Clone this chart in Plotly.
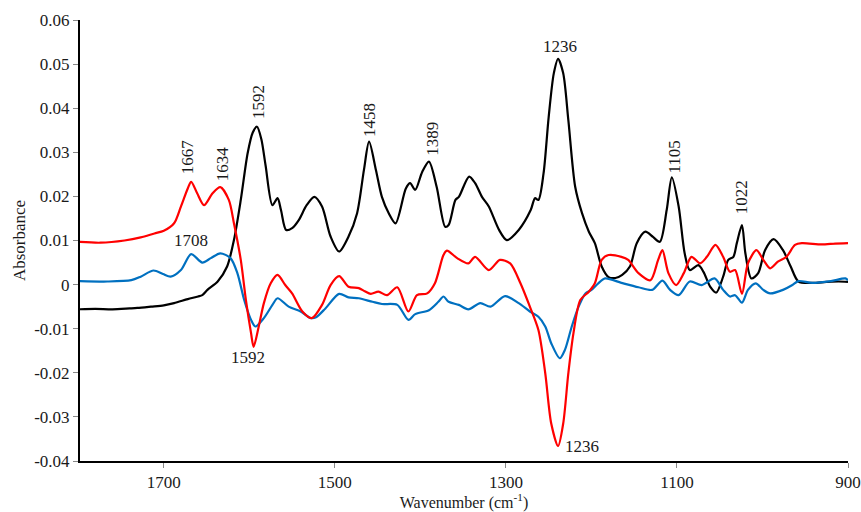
import plotly.graph_objects as go

# ---------------- data ----------------
black_w = [1800, 1780, 1760, 1740, 1731, 1715, 1700, 1688, 1672, 1660, 1655, 1649, 1637, 1626, 1618,
           1610, 1602, 1596, 1591, 1586, 1581, 1573, 1567, 1563, 1557, 1550, 1542, 1533, 1524, 1515,
           1505, 1495, 1484, 1474, 1466, 1460, 1452, 1445, 1437, 1429, 1417, 1412, 1406, 1398, 1390,
           1381, 1371, 1367, 1359, 1355, 1343, 1336, 1328, 1320, 1308, 1299, 1285, 1271, 1266, 1262,
           1256, 1250, 1244, 1239, 1233, 1227, 1219, 1211, 1203, 1196, 1188, 1180, 1172, 1164, 1155,
           1147, 1137, 1128, 1120, 1112, 1106, 1098, 1091, 1085, 1075, 1069, 1061, 1054, 1046, 1040,
           1034, 1030, 1024, 1020, 1013, 1005, 997, 987, 976, 967, 958, 942, 925, 911, 900]
black_v = [-0.0056, -0.0055, -0.0056, -0.0054, -0.0053, -0.0050, -0.0047, -0.0042, -0.0033, -0.0027,
           -0.0024, -0.0012, 0.0007, 0.0041, 0.0101, 0.0192, 0.0298, 0.0345, 0.0358, 0.0330, 0.0270,
           0.0180, 0.0196, 0.0169, 0.0124, 0.0128, 0.0147, 0.0180, 0.0199, 0.0177, 0.0109, 0.0075,
           0.0109, 0.0162, 0.0260, 0.0324, 0.0260, 0.0199, 0.0162, 0.0139, 0.0218, 0.0230, 0.0215,
           0.0255, 0.0279, 0.0222, 0.0131, 0.0135, 0.0192, 0.0199, 0.0245, 0.0230, 0.0199, 0.0177,
           0.0124, 0.0101, 0.0124, 0.0169, 0.0196, 0.0192, 0.0252, 0.0380, 0.0479, 0.0512, 0.0479,
           0.0373, 0.0222, 0.0162, 0.0120, 0.0094, 0.0041, 0.0017, 0.0015, 0.0022, 0.0041, 0.0094,
           0.0120, 0.0108, 0.0097, 0.0169, 0.0243, 0.0177, 0.0071, 0.0033, 0.0044, 0.0029, -0.0005,
           -0.0018, 0.0018, 0.0056, 0.0063, 0.0094, 0.0135, 0.0071, 0.0014, 0.0026, 0.0078, 0.0103,
           0.0078, 0.0041, 0.0007, 0.0004, 0.0006, 0.0007, 0.0006]

red_w = [1800, 1774, 1746, 1727, 1711, 1700, 1688, 1680, 1672, 1668, 1661, 1653, 1643, 1634, 1624,
         1618, 1610, 1604, 1598, 1595, 1589, 1583, 1575, 1567, 1558, 1550, 1538, 1527, 1515, 1505,
         1495, 1484, 1472, 1465, 1458, 1449, 1439, 1427, 1414, 1404, 1392, 1383, 1373, 1369, 1357,
         1344, 1336, 1320, 1307, 1295, 1283, 1272, 1262, 1254, 1247, 1239, 1233, 1227, 1221, 1213,
         1203, 1196, 1188, 1180, 1165, 1157, 1145, 1131, 1122, 1117, 1110, 1101, 1092, 1083, 1073,
         1065, 1055, 1046, 1038, 1032, 1024, 1017, 1007, 999, 991, 982, 972, 962, 954, 931, 915, 900]
red_v = [0.0097, 0.0095, 0.0100, 0.0107, 0.0116, 0.0122, 0.0139, 0.0177, 0.0218, 0.0233, 0.0207,
         0.0180, 0.0207, 0.0221, 0.0192, 0.0139, 0.0056, -0.0035, -0.0110, -0.0141, -0.0095, -0.0042,
         0.0003, 0.0022, -0.0001, -0.0020, -0.0061, -0.0076, -0.0046, -0.0001, 0.0019, -0.0005,
         -0.0008, -0.0015, -0.0021, -0.0016, -0.0024, -0.0006, -0.0061, -0.0024, -0.0020, 0.0003,
         0.0067, 0.0077, 0.0060, 0.0048, 0.0063, 0.0033, 0.0056, 0.0048, 0.0003, -0.0050, -0.0103,
         -0.0201, -0.0315, -0.0366, -0.0315, -0.0201, -0.0110, -0.0035, -0.0016, 0.0003, 0.0056,
         0.0067, 0.0063, 0.0056, 0.0026, 0.0010, 0.0056, 0.0078, 0.0026, -0.0001, 0.0026, 0.0063,
         0.0048, 0.0063, 0.0090, 0.0063, 0.0029, 0.0033, -0.0021, 0.0048, 0.0078, 0.0056, 0.0037,
         0.0052, 0.0063, 0.0090, 0.0094, 0.0091, 0.0093, 0.0094]

blue_w = [1800, 1766, 1738, 1727, 1712, 1701, 1692, 1680, 1668, 1655, 1645, 1634, 1622, 1614, 1606,
          1598, 1593, 1583, 1573, 1567, 1554, 1540, 1528, 1522, 1511, 1495, 1484, 1472, 1456, 1445,
          1427, 1414, 1406, 1390, 1379, 1373, 1367, 1355, 1344, 1330, 1318, 1301, 1285, 1272, 1262,
          1254, 1247, 1237, 1231, 1223, 1215, 1207, 1200, 1192, 1184, 1165, 1145, 1129, 1117, 1108,
          1098, 1085, 1071, 1056, 1046, 1038, 1032, 1024, 1017, 1008, 999, 991, 976, 965, 958, 942,
          920, 903, 900]
blue_v = [0.0008, 0.0007, 0.0010, 0.0018, 0.0032, 0.0024, 0.0018, 0.0033, 0.0069, 0.0050, 0.0060,
          0.0071, 0.0060, 0.0026, -0.0035, -0.0080, -0.0095, -0.0076, -0.0046, -0.0031, -0.0050,
          -0.0061, -0.0076, -0.0074, -0.0054, -0.0021, -0.0029, -0.0031, -0.0039, -0.0044, -0.0046,
          -0.0080, -0.0067, -0.0058, -0.0039, -0.0027, -0.0039, -0.0046, -0.0056, -0.0042, -0.0050,
          -0.0026, -0.0042, -0.0061, -0.0073, -0.0095, -0.0133, -0.0167, -0.0148, -0.0095, -0.0050,
          -0.0020, -0.0012, 0.0003, 0.0014, 0.0004, -0.0006, -0.0012, 0.0009, -0.0012, -0.0024,
          0.0007, -0.0001, 0.0014, -0.0012, -0.0027, -0.0024, -0.0041, -0.0012, 0.0003, -0.0012,
          -0.0020, -0.0012, -0.0001, 0.0008, 0.0004, 0.0008, 0.0014, 0.0010]

x_tickvals = [1700, 1500, 1300, 1100, 900]
x_ticktext = ["1700", "1500", "1300", "1100", "900"]
y_tickvals = [0.06, 0.05, 0.04, 0.03, 0.02, 0.01, 0, -0.01, -0.02, -0.03, -0.04]
y_ticktext = ["0.06", "0.05", "0.04", "0.03", "0.02", "0.01", "0", "-0.01", "-0.02", "-0.03", "-0.04"]

# peak labels: text, x, y, angle
label_text = ["1667", "1634", "1592", "1458", "1389", "1236", "1105", "1022", "1708", "1592", "1236"]
label_x = [1672.7, 1631.9, 1589.8, 1460.2, 1386.7, 1237.2, 1103.0, 1023.6, 1668.0, 1601.5, 1211.6]
label_y = [0.0289, 0.0273, 0.0414, 0.0373, 0.0330, 0.0541, 0.0289, 0.0199, 0.0099, -0.0166, -0.0368]
label_angle = [-90, -90, -90, -90, -90, 0, -90, -90, 0, 0, 0]

FONT = "Liberation Serif, Times New Roman, serif"
TXT = "#1a1a1a"

fig = go.Figure()
for w, v, c in [(black_w, black_v, "#000000"), (blue_w, blue_v, "#0070C0"), (red_w, red_v, "#FF0000")]:
    fig.add_trace(go.Scatter(x=w, y=v, mode="lines",
                             line=dict(color=c, width=2.2, shape="spline", smoothing=0.8),
                             showlegend=False, hoverinfo="skip"))

for t, x, y, a in zip(label_text, label_x, label_y, label_angle):
    fig.add_annotation(x=x, y=y, xref="x", yref="y", text=t, showarrow=False,
                       textangle=a, font=dict(family=FONT, size=17, color=TXT))

fig.update_layout(
    width=861, height=512,
    margin=dict(l=80, r=13, t=20, b=51),
    paper_bgcolor="white", plot_bgcolor="white",
    font=dict(family=FONT, size=17, color=TXT),
    xaxis=dict(range=[1798, 900], tickvals=x_tickvals, ticktext=x_ticktext, automargin=False,
               showline=True, linecolor="black", linewidth=2, ticks="outside",
               ticklen=5, tickcolor="#888888", tickwidth=1, showgrid=False, zeroline=False,
               title=dict(text="Wavenumber (cm<sup>-1</sup>)", font=dict(family=FONT, size=16, color=TXT), standoff=4),
               tickfont=dict(family=FONT, size=17, color=TXT)),
    yaxis=dict(range=[-0.04, 0.06], tickvals=y_tickvals, ticktext=y_ticktext, automargin=False,
               showline=True, linecolor="black", linewidth=2, ticks="outside",
               ticklen=5, tickcolor="#888888", tickwidth=1, showgrid=False, zeroline=False,
               title=dict(text="Absorbance", font=dict(family=FONT, size=17, color=TXT), standoff=4),
               tickfont=dict(family=FONT, size=17, color=TXT)),
)

fig.write_html("out.html", config={"displayModeBar": False},
               post_script="document.body.style.margin='0';document.body.style.overflow='hidden';")
